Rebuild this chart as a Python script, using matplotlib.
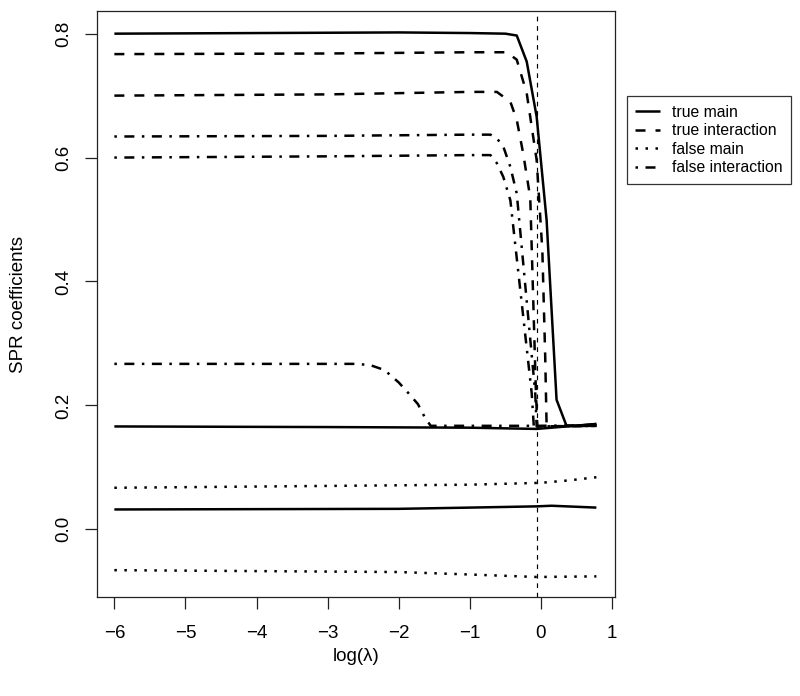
import matplotlib
matplotlib.use("Agg")
import matplotlib.pyplot as plt

plt.rcParams['font.family'] = ['Liberation Sans', 'DejaVu Sans']

# coefficient paths
tm1_x = [-6, -4, -2, -1, -0.5, -0.34, -0.2, -0.06, 0.08, 0.22, 0.36, 0.5, 0.78]
tm1_y = [0.800, 0.801, 0.802, 0.801, 0.800, 0.797, 0.755, 0.666, 0.499, 0.209, 0.167, 0.167, 0.170]
tm2_x = [-6, -3, -1, -0.06, 0.36, 0.78]
tm2_y = [0.166, 0.165, 0.164, 0.162, 0.166, 0.170]
tm3_x = [-6, -2, -1, -0.06, 0.15, 0.78]
tm3_y = [0.032, 0.033, 0.035, 0.037, 0.038, 0.035]

ti1_x = [-6, -3, -1, -0.48, -0.34, -0.2, -0.06, 0.02, 0.06, 0.08, 0.78]
ti1_y = [0.767, 0.768, 0.770, 0.770, 0.758, 0.704, 0.596, 0.45, 0.28, 0.166, 0.167]
ti2_x = [-6, -3, -1, -0.62, -0.43, -0.34, -0.25, -0.15, -0.07, -0.05, 0.78]
ti2_y = [0.700, 0.702, 0.706, 0.706, 0.690, 0.661, 0.607, 0.535, 0.22, 0.166, 0.167]

fm1_x = [-6, -3, -1, 0, 0.4, 0.78]
fm1_y = [0.067, 0.070, 0.072, 0.075, 0.079, 0.084]
fm2_x = [-6, -2, -1, -0.06, 0.78]
fm2_y = [-0.066, -0.069, -0.073, -0.077, -0.076]

fi1_x = [-6, -3, -1, -0.71, -0.62, -0.53, -0.43, -0.34, -0.08, -0.06, 0.78]
fi1_y = [0.634, 0.635, 0.637, 0.637, 0.631, 0.618, 0.585, 0.542, 0.22, 0.166, 0.167]
fi2_x = [-6, -3, -1, -0.71, -0.62, -0.53, -0.43, -0.13, -0.1, 0.78]
fi2_y = [0.600, 0.602, 0.604, 0.604, 0.591, 0.569, 0.531, 0.22, 0.166, 0.167]
fi3_x = [-6, -4, -2.6, -2.4, -2.2, -2.0, -1.85, -1.73, -1.63, -1.55, -0.06, 0.78]
fi3_y = [0.267, 0.267, 0.267, 0.265, 0.257, 0.237, 0.218, 0.202, 0.180, 0.167, 0.167, 0.168]

vline_x = -0.054

legend_labels = ['true main', 'true interaction', 'false main', 'false interaction']

lw = 1.8
styles = {
    'solid': dict(linestyle='-'),
    'dashed': dict(dashes=(4, 4)),
    'dotted': dict(dashes=(1, 3)),
    'dotdash': dict(dashes=(1, 3, 4, 3)),
}

fig = plt.figure(figsize=(8, 6.96), dpi=100)
ax = fig.add_axes([0.121, 0.1418, 0.6474, 0.8424])

def path(x, y, st):
    ax.plot(x, y, color='black', lw=lw, solid_capstyle='butt', dash_capstyle='butt',
            solid_joinstyle='round', **styles[st])

path(fi3_x, fi3_y, 'dotdash')
path(fi2_x, fi2_y, 'dotdash')
path(fi1_x, fi1_y, 'dotdash')
path(ti2_x, ti2_y, 'dashed')
path(ti1_x, ti1_y, 'dashed')
path(fm1_x, fm1_y, 'dotted')
path(fm2_x, fm2_y, 'dotted')
path(tm3_x, tm3_y, 'solid')
path(tm2_x, tm2_y, 'solid')
path(tm1_x, tm1_y, 'solid')

ax.axvline(vline_x, color='black', lw=0.85, dashes=(4, 4))

ax.set_xlim(-6.247, 1.038)
ax.set_ylim(-0.1098, 0.8366)
ax.set_xticks([-6, -5, -4, -3, -2, -1, 0, 1])
ax.set_yticks([0.0, 0.2, 0.4, 0.6, 0.8])
ax.set_yticklabels(['0.0', '0.2', '0.4', '0.6', '0.8'])

for s in ax.spines.values():
    s.set_color('#222222')
    s.set_linewidth(0.9)
ax.tick_params(length=8.6, width=0.9, color='#222222', labelsize=13.5)
ax.tick_params(axis='x', pad=11)
ax.tick_params(axis='y', pad=9)
for t in ax.get_yticklabels():
    t.set_rotation(90)
    t.set_va('center')

ax.set_xlabel('log(λ)', fontsize=13.5, va='center')
ax.set_ylabel('SPR coefficients', fontsize=13.5, va='center')
ax.xaxis.set_label_coords(0.5, -0.101)
ax.yaxis.set_label_coords(-0.152, 0.5)

handles = [
    plt.Line2D([], [], color='black', lw=lw, solid_capstyle='butt'),
    plt.Line2D([], [], color='black', lw=lw, dashes=(4, 4)),
    plt.Line2D([], [], color='black', lw=lw, dashes=(1, 3)),
    plt.Line2D([], [], color='black', lw=lw, dashes=(1, 3, 4, 3)),
]
leg = fig.legend(handles, legend_labels, loc='upper left',
                 bbox_to_anchor=(626.7 / 800, 1 - 96 / 696), borderaxespad=0,
                 fontsize=11.3, frameon=True, fancybox=False, edgecolor='black',
                 handlelength=1.59, handletextpad=0.74, borderpad=0.55,
                 labelspacing=0.23)
leg.get_frame().set_linewidth(0.9)

fig.savefig('out.png', dpi=100)
